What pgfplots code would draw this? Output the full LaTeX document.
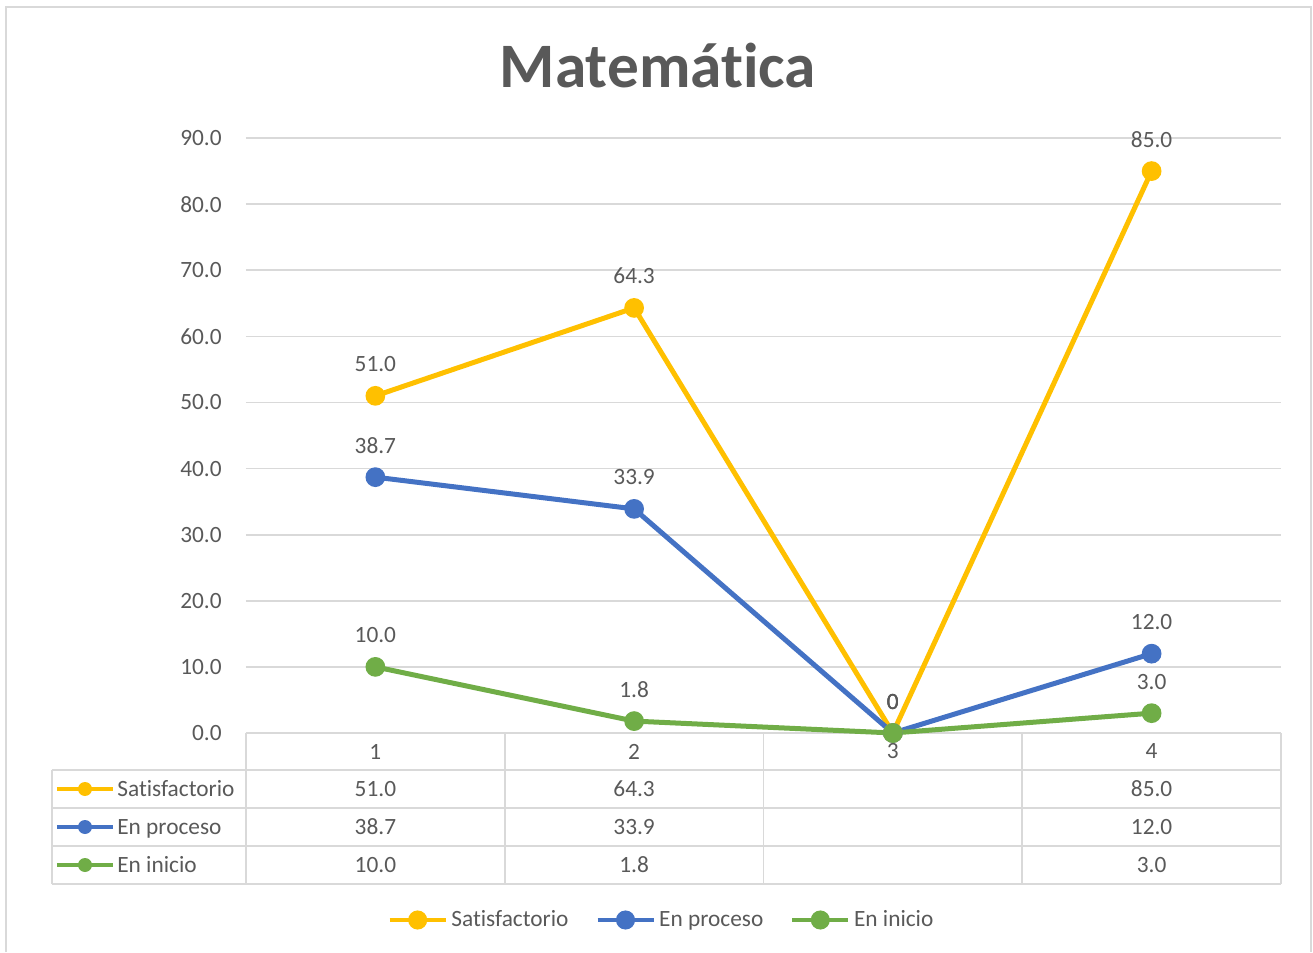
\documentclass[border=0pt]{standalone}
\usepackage{pgfplots}
\pgfplotsset{compat=1.18}
\usepackage{fontspec}
\setmainfont{Carlito}[Ligatures=NoCommon]
\definecolor{cy}{HTML}{FFC000}
\definecolor{cb}{HTML}{4472C4}
\definecolor{cg}{HTML}{70AD47}
\definecolor{tg}{HTML}{595959}
\definecolor{gl}{HTML}{D9D9D9}
\newcommand{\fs}{\fontsize{14}{16}\selectfont}
\begin{document}
\begin{tikzpicture}
% pixel scope: 1px = 0.6pt, origin of axis box at px (246,733)
\begin{scope}[x=0.6pt, y=-0.6pt, shift={(-147.6pt,439.8pt)}]
  \useasboundingbox (0,0) rectangle (1313,952);
  \draw[gl, line width=1.2pt] (6.5,952) -- (6.5,7.5) -- (1310.5,7.5) -- (1310.5,952);
  \node[anchor=base, font=\fontsize{38}{42}\selectfont\bfseries, text=tg] at (658,88) {Matemática};
  % data table grid
  \foreach \yy in {770,808,846,884} \draw[gl, line width=1pt] (52,\yy) -- (1281,\yy);
  \foreach \xx in {246,504.75,763.5,1022.25,1281} \draw[gl, line width=1pt] (\xx,733) -- (\xx,884);
  \draw[gl, line width=1pt] (52,770) -- (52,884);
  % row headers
  \draw[cy, line width=2.8pt] (57,789) -- (113,789); \fill[cy] (85,789) circle (7);
  \draw[cb, line width=2.8pt] (57,827) -- (113,827); \fill[cb] (85,827) circle (7);
  \draw[cg, line width=2.8pt] (57,865) -- (113,865); \fill[cg] (85,865) circle (7);
  \node[anchor=base west, inner sep=0pt, font=\fs, text=tg] at (117,796) {Satisfactorio};
  \node[anchor=base west, inner sep=0pt, font=\fs, text=tg] at (117,834) {En proceso};
  \node[anchor=base west, inner sep=0pt, font=\fs, text=tg] at (117,872) {En inicio};
  % table values
  \node[anchor=base, inner sep=0pt, font=\fs, text=tg] at (375.4,796) {51.0};
  \node[anchor=base, inner sep=0pt, font=\fs, text=tg] at (634.1,796) {64.3};
  \node[anchor=base, inner sep=0pt, font=\fs, text=tg] at (1151.6,796) {85.0};
  \node[anchor=base, inner sep=0pt, font=\fs, text=tg] at (375.4,834) {38.7};
  \node[anchor=base, inner sep=0pt, font=\fs, text=tg] at (634.1,834) {33.9};
  \node[anchor=base, inner sep=0pt, font=\fs, text=tg] at (1151.6,834) {12.0};
  \node[anchor=base, inner sep=0pt, font=\fs, text=tg] at (375.4,872) {10.0};
  \node[anchor=base, inner sep=0pt, font=\fs, text=tg] at (634.1,872) {1.8};
  \node[anchor=base, inner sep=0pt, font=\fs, text=tg] at (1151.6,872) {3.0};
\end{scope}
\begin{axis}[
  at={(0,0)}, anchor=south west,
  scale only axis, width=621pt, height=357pt,
  xmin=0.5, xmax=4.5, ymin=0, ymax=90,
  ytick={0,10,...,90}, xtick={1,2,3,4}, xticklabels={1,2,3,4},
  clip=false,
  axis line style={draw=none}, major tick length=0pt,
  ymajorgrids, grid style={gl, line width=1pt},
  tick label style={font=\fs, text=tg},
  yticklabel style={inner sep=0pt, xshift=-14.4pt, /pgf/number format/.cd, fixed, fixed zerofill, precision=1, assume math mode=true},
  xticklabel style={anchor=center, inner sep=0pt, yshift=-11.1pt},
  every axis plot/.append style={line width=3pt, mark=*, mark size=4.4pt},
  nodes near coords, point meta=explicit symbolic,
  every node near coord/.append style={font=\fs, text=tg, anchor=south, inner sep=0pt, yshift=12.8pt},
  legend columns=3,
  legend style={draw=none, fill=none, font=\fs, text=tg, at={(0.402,-0.3143)}, anchor=center,
    /tikz/every even column/.append style={column sep=14pt}},
  legend image code/.code={\draw[#1, mark=none, line width=2.8pt] (0pt,0pt) -- (33.6pt,0pt); \fill[#1] (16.8pt,0pt) circle (4.2pt);},
]
\addplot[cy] coordinates {(1,51.0) [51.0] (2,64.3) [64.3] (3,0) [0] (4,85.0) [85.0]};
\addlegendentry{Satisfactorio}
\addplot[cb] coordinates {(1,38.7) [38.7] (2,33.9) [33.9] (3,0) [0] (4,12.0) [12.0]};
\addlegendentry{En proceso}
\addplot[cg] coordinates {(1,10.0) [10.0] (2,1.8) [1.8] (3,0) [0] (4,3.0) [3.0]};
\addlegendentry{En inicio}
\end{axis}
\end{tikzpicture}
\end{document}
